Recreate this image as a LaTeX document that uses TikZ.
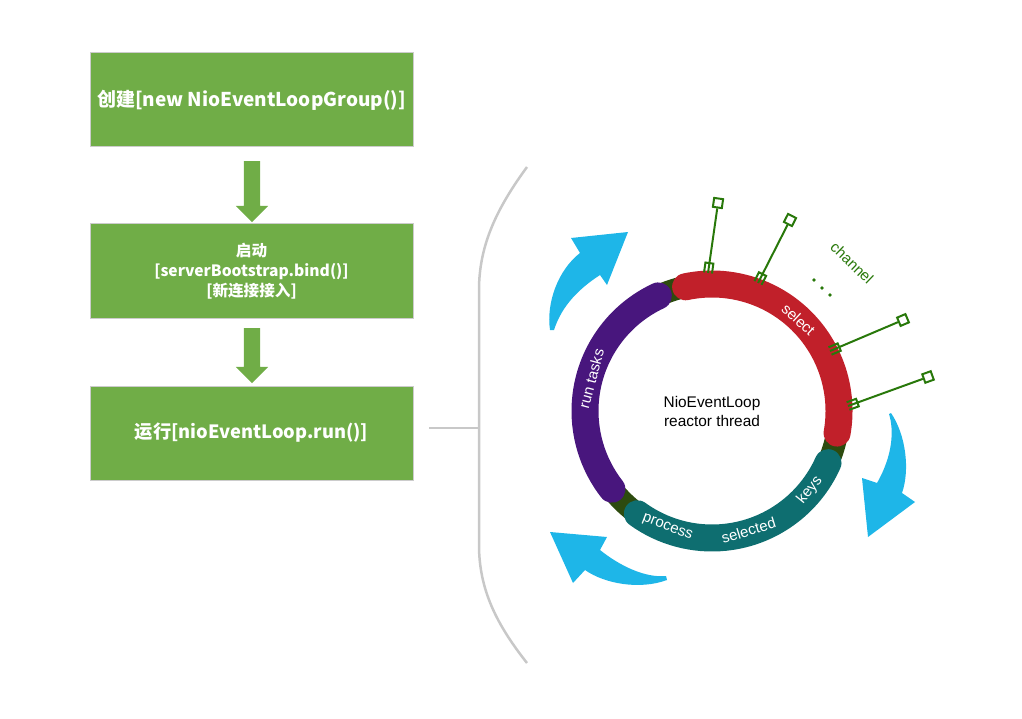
\documentclass[tikz,border=0pt]{standalone}
\usepackage{fontspec}
\setmainfont{Liberation Sans}
\newfontfamily\cjk{Noto Sans CJK SC}
\usetikzlibrary{calc,shapes.arrows}

\definecolor{flowgreen}{RGB}{112,173,71}
\definecolor{ringbase}{RGB}{45,75,15}
\definecolor{ringred}{RGB}{193,32,42}
\definecolor{ringpurple}{RGB}{72,22,125}
\definecolor{ringteal}{RGB}{14,110,112}
\definecolor{changreen}{RGB}{40,120,10}
\definecolor{arrowblue}{RGB}{30,182,232}
\definecolor{bracketgray}{RGB}{200,200,200}

\tikzset{
  stepbox/.style={rectangle, fill=flowgreen, draw=black!20, line width=1pt,
    minimum width=323pt, minimum height=94pt, inner sep=0pt,
    text=white, align=center, font=\cjk\bfseries},
  downarrow/.style={single arrow, fill=flowgreen, rotate=-90, inner xsep=0pt,
    inner ysep=8pt, minimum width=32pt, single arrow head extend=8pt,
    single arrow head indent=0pt},
  ringseg/.style={line width=27pt, line cap=round},
  ringlabel/.style={text=white, font=\fontsize{15}{17}\selectfont, inner sep=0pt},
  chanline/.style={draw=changreen, line width=2pt},
  chanbox/.style={rectangle, draw=changreen, line width=2pt, fill=white,
    minimum size=9pt, inner sep=0pt},
  turn/.style={fill=arrowblue}
}

\begin{document}
\begin{tikzpicture}[x=1pt,y=-1pt]
\useasboundingbox (0,0) rectangle (1022,719);

% steps
\node[stepbox, font=\cjk\bfseries\fontsize{19}{22}\selectfont] (create) at (251.5,100) {创建[new NioEventLoopGroup()]};
\node[stepbox, font=\cjk\bfseries\fontsize{15.6}{20}\selectfont] (start) at (251.5,271) {启动\\{[}serverBootstrap.bind(){]}\\{[}新连接接入{]}};
\node[stepbox, font=\cjk\bfseries\fontsize{18.3}{22}\selectfont] (run) at (251.5,433) {运行[nioEventLoop.run()]};

\node[downarrow, minimum height=61pt] (arrA) at (252,187.5) {};
\node[downarrow, minimum height=55pt] (arrB) at (252,351.5) {};

% bracket
\coordinate (brk) at (479,428);
\coordinate (lead) at (429,428);
\draw[bracketgray, line width=2.5pt] (527,167) .. controls (497,208) and (479,245) .. (479,290)
  -- (479,545) .. controls (479,590) and (497,625) .. (527,663);
\draw[bracketgray, line width=2.5pt] (lead) -- (brk);

% ring
\begin{scope}[shift={(712,411)}, y=1pt]
  \draw[ringbase, line width=22pt] (0,0) circle[radius=127];
  \draw[ringseg, ringteal] (-24:127) arc[start angle=-24, end angle=-126, radius=127];
  \draw[ringseg, ringred] (102:127) arc[start angle=102, end angle=-10, radius=127];
  \draw[ringseg, ringpurple] (115:127) arc[start angle=115, end angle=218, radius=127];

  \node[ringlabel, rotate=-43] (selectlbl) at (46.6:126) {select};
  \node[ringlabel, rotate=75] (tasklbl) at (165:125) {run tasks};
  \node[ringlabel, rotate=-21] (processlbl) at (249:125) {process};
  \node[ringlabel, rotate=17] (selectedlbl) at (287:125) {selected};
  \node[ringlabel, rotate=51] (keyslbl) at (321:126) {keys};

  \node[align=center, font=\fontsize{15.4}{19}\selectfont] (loop) at (0,0) {NioEventLoop\\reactor thread};
\end{scope}

% channels
\foreach \ix/\iy/\ox/\oy/\rot [count=\i] in {708/273/718/203/-8, 758/283/790/220/-27, 830/351/903/320/23, 848/406/928/377/20}{
  \coordinate (ch\i-in) at (\ix,\iy);
  \node[chanbox, rotate=\rot] (ch\i-out) at (\ox,\oy) {};
  \coordinate (ch\i-bar) at ($(ch\i-in)!10pt!(ch\i-out)$);
  \draw[chanline] (ch\i-in) -- (ch\i-out);
  \draw[chanline] ($(ch\i-in)!4pt!90:(ch\i-out)$) -- ($(ch\i-bar)!4pt!90:(ch\i-out)$)
    -- ($(ch\i-bar)!4pt!-90:(ch\i-out)$) -- ($(ch\i-in)!4pt!-90:(ch\i-out)$);
}
\node[text=changreen, rotate=-44, font=\fontsize{15}{17}\selectfont] (chanlbl) at (852,263) {channel};
\foreach \dx/\dy in {814/280, 822/288, 830/295}
  \fill[changreen] (\dx,\dy) circle[radius=1.8];

% turning arrows
\fill[turn] (550,330) .. controls (546,303) and (558,270) .. (580,253) -- (571,238) -- (628,232)
  -- (607,285) -- (600,275) .. controls (580,288) and (562,305) .. (554,330) -- cycle;
\fill[turn] (891,413) .. controls (906,435) and (910,470) .. (902,493) -- (915,502) -- (868,537)
  -- (862,478) -- (877,483) .. controls (893,455) and (894,430) .. (889,414) -- cycle;
\fill[turn] (667,580) .. controls (640,590) and (605,584) .. (585,570) -- (573,583) -- (550,532)
  -- (607,537) -- (600,550) .. controls (620,566) and (645,578) .. (666,576) -- cycle;

\end{tikzpicture}
\end{document}
